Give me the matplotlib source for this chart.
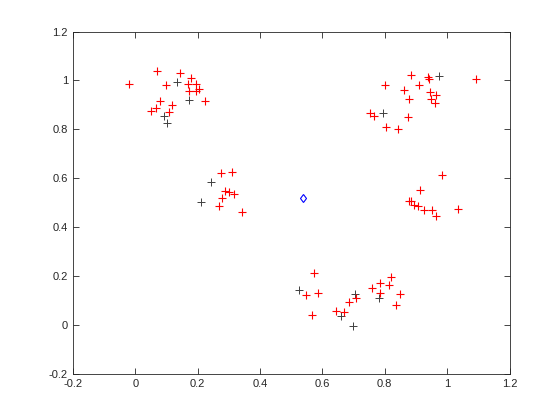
import matplotlib.pyplot as plt
from matplotlib.ticker import FuncFormatter

plt.rcParams['font.family'] = ['Liberation Sans', 'DejaVu Sans']
plt.rcParams['axes.unicode_minus'] = False

# red "+" points
red_x = [0.071, 0.145, 0.180, 0.170, 0.196, -0.021, 0.100, 0.206, 0.173, 0.194,
         0.225, 0.081, 0.119, 0.068, 0.052, 0.107,
         0.884, 0.939, 0.942, 1.092, 0.801, 0.910, 0.862, 0.945, 0.964, 0.878,
         0.947, 0.962, 0.753, 0.766, 0.875, 0.804, 0.843,
         0.276, 0.311, 0.289, 0.302, 0.318, 0.279, 0.267, 0.343,
         0.983, 0.913, 0.878, 0.884, 0.894, 0.907, 0.926, 0.951, 0.964, 1.035,
         0.574, 0.548, 0.587, 0.567, 0.644, 0.670, 0.686, 0.708, 0.759, 0.785,
         0.785, 0.820, 0.814, 0.849, 0.836]
red_y = [1.040, 1.029, 1.008, 0.986, 0.986, 0.986, 0.980, 0.966, 0.958, 0.958,
         0.917, 0.917, 0.900, 0.888, 0.876, 0.872,
         1.023, 1.012, 1.007, 1.007, 0.982, 0.982, 0.962, 0.954, 0.940, 0.922,
         0.925, 0.909, 0.868, 0.855, 0.851, 0.810, 0.802,
         0.622, 0.626, 0.548, 0.544, 0.536, 0.519, 0.486, 0.462,
         0.613, 0.552, 0.505, 0.505, 0.490, 0.486, 0.470, 0.470, 0.446, 0.474,
         0.212, 0.122, 0.130, 0.040, 0.056, 0.052, 0.093, 0.109, 0.150, 0.171,
         0.130, 0.197, 0.163, 0.126, 0.081]

# black "+" points
blk_x = [0.135, 0.174, 0.091, 0.103, 0.795, 0.974, 0.244, 0.212,
         0.526, 0.660, 0.705, 0.699, 0.782]
blk_y = [0.995, 0.921, 0.855, 0.824, 0.865, 1.019, 0.585, 0.503,
         0.142, 0.036, 0.126, -0.005, 0.109]

# blue diamond
ctr_x = [0.537]
ctr_y = [0.519]

fig = plt.figure(figsize=(5.6, 4.2), dpi=100)
ax = fig.add_axes([0.13, 0.11, 0.78, 0.815])

ax.plot(blk_x, blk_y, '+', color='#404040', markersize=6, markeredgewidth=0.7)
ax.plot(red_x, red_y, '+', color='red', markersize=6, markeredgewidth=0.8)
ax.plot(ctr_x, ctr_y, 'd', color='blue', markerfacecolor='none',
        markersize=4.5, markeredgewidth=0.8)

ax.set_xlim(-0.2, 1.2)
ax.set_ylim(-0.2, 1.2)
ax.set_xticks([-0.2, 0, 0.2, 0.4, 0.6, 0.8, 1, 1.2])
ax.set_yticks([-0.2, 0, 0.2, 0.4, 0.6, 0.8, 1, 1.2])
fmt = FuncFormatter(lambda v, p: '%g' % round(v, 2))
ax.xaxis.set_major_formatter(fmt)
ax.yaxis.set_major_formatter(fmt)
ax.tick_params(direction='in', top=True, right=True, length=4, width=0.6,
               colors='#262626', labelsize=8)
for s in ax.spines.values():
    s.set_linewidth(0.6)
    s.set_color('#262626')

fig.savefig('out.png', dpi=100)
